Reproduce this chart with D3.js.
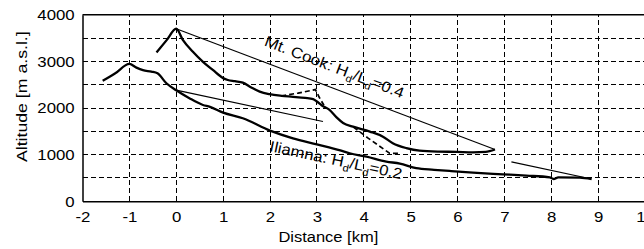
<!DOCTYPE html>
<html><head><meta charset="utf-8">
<script src="https://cdn.jsdelivr.net/npm/d3@7"></script>
<style>
body{margin:0;background:#fff;}
svg{display:block;font-family:"Liberation Sans",Arial,sans-serif;}
</style></head>
<body><svg id="c" width="644" height="249"></svg>
<script>
// ---- data ----
const xTicks = [-2,-1,0,1,2,3,4,5,6,7,8,9,10];
const yTicks = [0,1000,2000,3000,4000];
const xGrid = [-1,0,1,2,3,4,5,6,7,8,9,10];
const yGrid = [500,1000,1500,2000,2500,3000,3500];

const cookDist = [-0.42,-0.2,0,0.14,0.35,0.57,0.78,1.0,1.1,1.25,1.42,1.6,1.78,1.99,2.25,2.49,2.75,2.92,3.0,3.1,3.27,3.42,3.56,3.77,4.13,4.41,4.62,4.91,5.19,5.6,5.98,6.33,6.6,6.8];
const cookAlt  = [3190,3460,3700,3460,3210,2990,2815,2640,2600,2575,2545,2440,2350,2295,2260,2240,2215,2190,2140,2060,1960,1800,1680,1600,1495,1385,1245,1140,1085,1065,1060,1050,1060,1110];

const cookDash1Dist = [2.24,2.6,2.97,3.05,3.15];
const cookDash1Alt  = [2257,2320,2395,2230,2060];
const cookDash2Dist = [3.78,4.1,4.55,4.75];
const cookDash2Alt  = [1590,1350,1030,1025];

const iliDist = [-1.57,-1.3,-1.0,-0.85,-0.71,-0.53,-0.4,-0.21,0,0.28,0.57,0.72,1.0,1.42,2.0,2.49,3.0,3.5,3.7,4.06,4.48,4.77,5.12,5.5,5.83,6.33,6.97,7.47,7.97,8.05,8.15,8.61,8.86];
const iliAlt  = [2585,2745,2945,2865,2810,2780,2745,2530,2380,2210,2065,2025,1900,1780,1515,1350,1220,1090,1030,957,850,810,710,675,650,614,578,550,514,478,514,507,478];

const cookRatioDist = [0,6.8];
const cookRatioAlt  = [3700,1110];
const iliRatio1Dist = [0,3.13];
const iliRatio1Alt  = [2385,1711];
const iliRatio2Dist = [7.15,8.86];
const iliRatio2Alt  = [846,478];

// ---- chart ----
const svg = d3.select("#c");
const x = d3.scaleLinear().domain([-2,10]).range([82.5,645]);
const y = d3.scaleLinear().domain([0,4000]).range([201.3,14.7]);
const FS = 15, SX = 1.12;

// grid
const g = svg.append("g").attr("shape-rendering","crispEdges");
g.selectAll(".vg").data(xGrid).join("line")
  .attr("x1",d=>x(d)).attr("x2",d=>x(d)).attr("y1",y(0)).attr("y2",y(4000))
  .attr("stroke","#000").attr("stroke-width",1).attr("stroke-dasharray","5,3");
g.selectAll(".hg").data(yGrid).join("line")
  .attr("x1",x(-2)).attr("x2",x(10)).attr("y1",d=>y(d)).attr("y2",d=>y(d))
  .attr("stroke","#000").attr("stroke-width",1).attr("stroke-dasharray","5,3");

// frame
svg.append("line").attr("x1",x(-2)).attr("x2",x(10)).attr("y1",y(4000)).attr("y2",y(4000)).attr("stroke","#000").attr("stroke-width",1.5);

// axes
const ax = svg.append("g").attr("transform",`translate(${x(-2)},0)`)
  .call(d3.axisLeft(y).tickValues(yTicks).tickSize(0).tickPadding(7).tickFormat(d3.format("d")));
const bx = svg.append("g").attr("transform",`translate(0,${y(0)})`)
  .call(d3.axisBottom(x).tickValues(xTicks).tickSize(0).tickPadding(9.8).tickFormat(d3.format("d")));
[ax,bx].forEach(a=>{
  a.select(".domain").attr("stroke","#000").attr("stroke-width",1.5);
  a.selectAll("text").attr("font-size",FS).attr("fill","#000")
   .attr("font-family","Liberation Sans, Arial, sans-serif");
});
ax.selectAll("text").attr("transform",`scale(${SX},1)`);
bx.selectAll("text").attr("transform",`scale(${SX},1)`).text(d=>d<0?"-"+Math.abs(d):d);

// axis titles
svg.append("text").attr("transform",`translate(328.3,241.7) scale(1.1,1)`)
  .attr("text-anchor","middle").attr("font-size",FS).text("Distance [km]");
svg.append("text").attr("transform",`translate(26.5,96.7) rotate(-90) scale(1.18,1)`)
  .attr("text-anchor","middle").attr("font-size",FS).text("Altitude [m a.s.l.]");

// lines
const smooth = d3.line().x(d=>x(d[0])).y(d=>y(d[1])).curve(d3.curveMonotoneX);
const straight = d3.line().x(d=>x(d[0])).y(d=>y(d[1]));
const zip = (a,b)=>a.map((v,i)=>[v,b[i]]);

const plot = svg.append("g");
[[cookRatioDist,cookRatioAlt],[iliRatio1Dist,iliRatio1Alt],[iliRatio2Dist,iliRatio2Alt]].forEach(([a,b])=>{
  plot.append("path").datum(zip(a,b)).attr("d",straight)
    .attr("fill","none").attr("stroke","#000").attr("stroke-width",1.2);
});
[[cookDash1Dist,cookDash1Alt],[cookDash2Dist,cookDash2Alt]].forEach(([a,b])=>{
  plot.append("path").datum(zip(a,b)).attr("d",straight)
    .attr("fill","none").attr("stroke","#000").attr("stroke-width",1.7).attr("stroke-dasharray","5,3");
});
[[cookDist,cookAlt],[iliDist,iliAlt]].forEach(([a,b])=>{
  plot.append("path").datum(zip(a,b)).attr("d",smooth)
    .attr("fill","none").attr("stroke","#000").attr("stroke-width",2.3).attr("stroke-linejoin","round");
});

// annotations
function label(cx,cy,ang,name,val){
  const t = svg.append("text").attr("transform",`translate(${cx},${cy}) rotate(${ang}) scale(${SX},1)`)
    .attr("text-anchor","middle").attr("dy","0.35em").attr("font-size",FS).attr("fill","#000");
  t.append("tspan").text(name+": H");
  t.append("tspan").attr("font-size",10).attr("dy",4).text("d");
  t.append("tspan").attr("dy",-4).text("/L");
  t.append("tspan").attr("font-size",10).attr("dy",4).text("d");
  t.append("tspan").attr("dy",-4).text("="+val);
}
label(334.5,67,21,"Mt. Cook","0.4");
label(336,160,12,"Iliamna","0.2");
</script></body></html>
